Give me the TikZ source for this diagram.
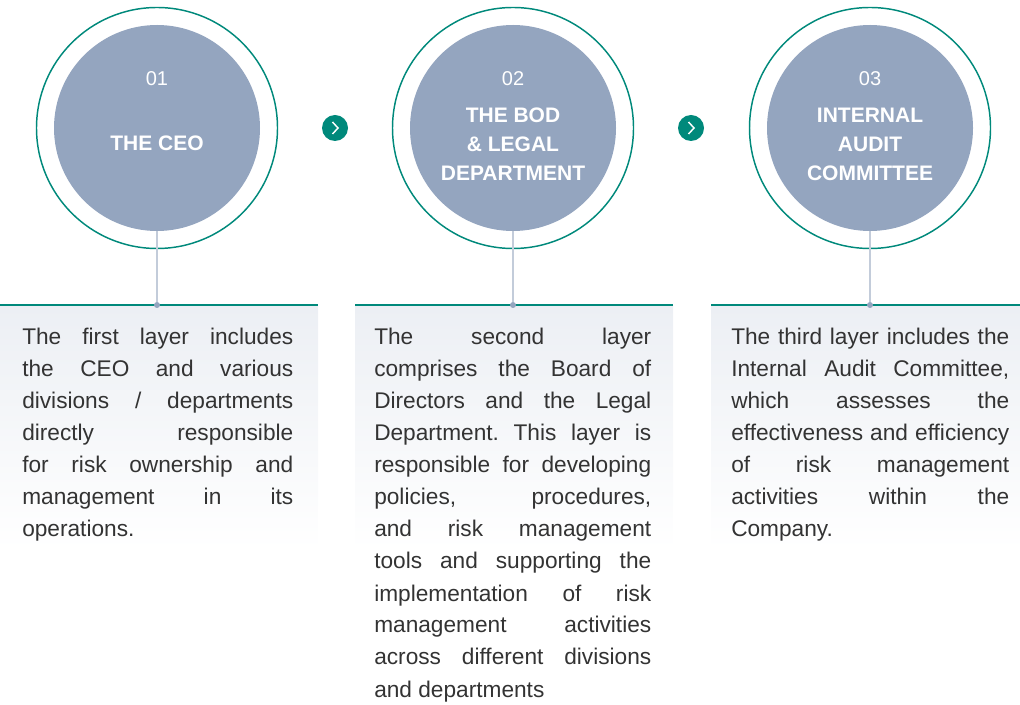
\documentclass[tikz,border=0pt]{standalone}
\usepackage{fontspec}
\setmainfont{Liberation Sans}
\usetikzlibrary{calc}

\definecolor{riskteal}{HTML}{00897B}
\definecolor{riskslate}{HTML}{94A5BF}
\definecolor{riskstem}{HTML}{C3CCDA}
\definecolor{riskfog}{HTML}{ECEFF4}
\definecolor{risktext}{HTML}{333333}

\frenchspacing
% one justified line of a text box
\newcommand{\jline}[1]{{\spaceskip=0pt\xspaceskip=0pt\makebox[\linewidth][s]{#1}}}

\begin{document}
\begin{tikzpicture}[x=0.75pt,y=-0.75pt,
    ring/.style={circle, draw=riskteal, line width=1.1pt, minimum size=180.75pt, inner sep=0pt},
    disc/.style={circle, fill=riskslate, minimum size=154.5pt, inner sep=0pt},
    number/.style={text=white, inner sep=0pt, font=\fontsize{15}{18}\selectfont},
    title/.style={text=white, align=center, inner sep=0pt, font=\bfseries\fontsize{15.75}{21.75}\selectfont},
    nextbtn/.style={circle, fill=riskteal, minimum size=19.5pt, inner sep=0pt},
    body/.style={anchor=base west, text width=#1, inner sep=0pt, align=justify, text=risktext, font=\fontsize{17}{24}\selectfont},
    stem/.style={draw=riskstem, line width=1pt},
    pin/.style={circle, fill=riskslate, minimum size=4.5pt, inner sep=0pt},
    rule/.style={draw=riskteal, line width=1.5pt}]
    \useasboundingbox (0,0) rectangle (1020,705);

    % Draw Box Backgrounds
    \shade[top color=riskfog, bottom color=white] (0,306) rectangle (318,550);
    \shade[top color=riskfog, bottom color=white] (355,306) rectangle (673,550);
    \shade[top color=riskfog, bottom color=white] (711,306) rectangle (1020,550);

    % Draw Box Rules
    \draw[rule] (0,305) -- (318,305);
    \draw[rule] (355,305) -- (673,305);
    \draw[rule] (711,305) -- (1020,305);

    % Circles
    % -- first layer
    \node[ring] (ring1) at (157,128) {};
    \node[disc] (disc1) at (157,128) {};
    \node[number] (num1) at (157,79) {01};
    \node[title] (title1) at (157,143) {THE CEO};

    % -- second layer
    \node[ring] (ring2) at (513,128) {};
    \node[disc] (disc2) at (513,128) {};
    \node[number] (num2) at (513,79) {02};
    \node[title] (title2) at (513,144) {THE BOD\\\& LEGAL\\DEPARTMENT};

    % -- third layer
    \node[ring] (ring3) at (870,128) {};
    \node[disc] (disc3) at (870,128) {};
    \node[number] (num3) at (870,79) {03};
    \node[title] (title3) at (870,144) {INTERNAL\\AUDIT\\COMMITTEE};

    % Next Buttons
    \node[nextbtn] (btn1) at (335,128) {};
    \node[nextbtn] (btn2) at (691,128) {};
    \draw[white, line width=1.1pt] ($(btn1)+(-2.5,-6)$) -- ($(btn1)+(3,0)$) -- ($(btn1)+(-2.5,6)$);
    \draw[white, line width=1.1pt] ($(btn2)+(-2.5,-6)$) -- ($(btn2)+(3,0)$) -- ($(btn2)+(-2.5,6)$);

    % Stems down to the boxes
    \node[pin] (pin1) at (157,305) {};
    \node[pin] (pin2) at (513,305) {};
    \node[pin] (pin3) at (870,305) {};
    \draw[stem] (disc1.south) -- (pin1);
    \draw[stem] (disc2.south) -- (pin2);
    \draw[stem] (disc3.south) -- (pin3);

    % Box Texts
    \node[body=203.25pt] (text1) at (22,345) {%
        \jline{The first layer includes}\\
        \jline{the CEO and various}\\
        \jline{divisions / departments}\\
        \jline{directly responsible}\\
        \jline{for risk ownership and}\\
        \jline{management in its}\\
        operations.};
    \node[body=207.75pt] (text2) at (374,345) {%
        \jline{The second layer}\\
        \jline{comprises the Board of}\\
        \jline{Directors and the Legal}\\
        \jline{Department. This layer is}\\
        \jline{responsible for developing}\\
        \jline{policies, procedures,}\\
        \jline{and risk management}\\
        \jline{tools and supporting the}\\
        \jline{implementation of risk}\\
        \jline{management activities}\\
        \jline{across different divisions}\\
        and departments};
    \node[body=208.5pt] (text3) at (731,345) {%
        \jline{The third layer includes the}\\
        \jline{Internal Audit Committee,}\\
        \jline{which assesses the}\\
        \jline{effectiveness and efficiency}\\
        \jline{of risk management}\\
        \jline{activities within the}\\
        Company.};
\end{tikzpicture}
\end{document}
